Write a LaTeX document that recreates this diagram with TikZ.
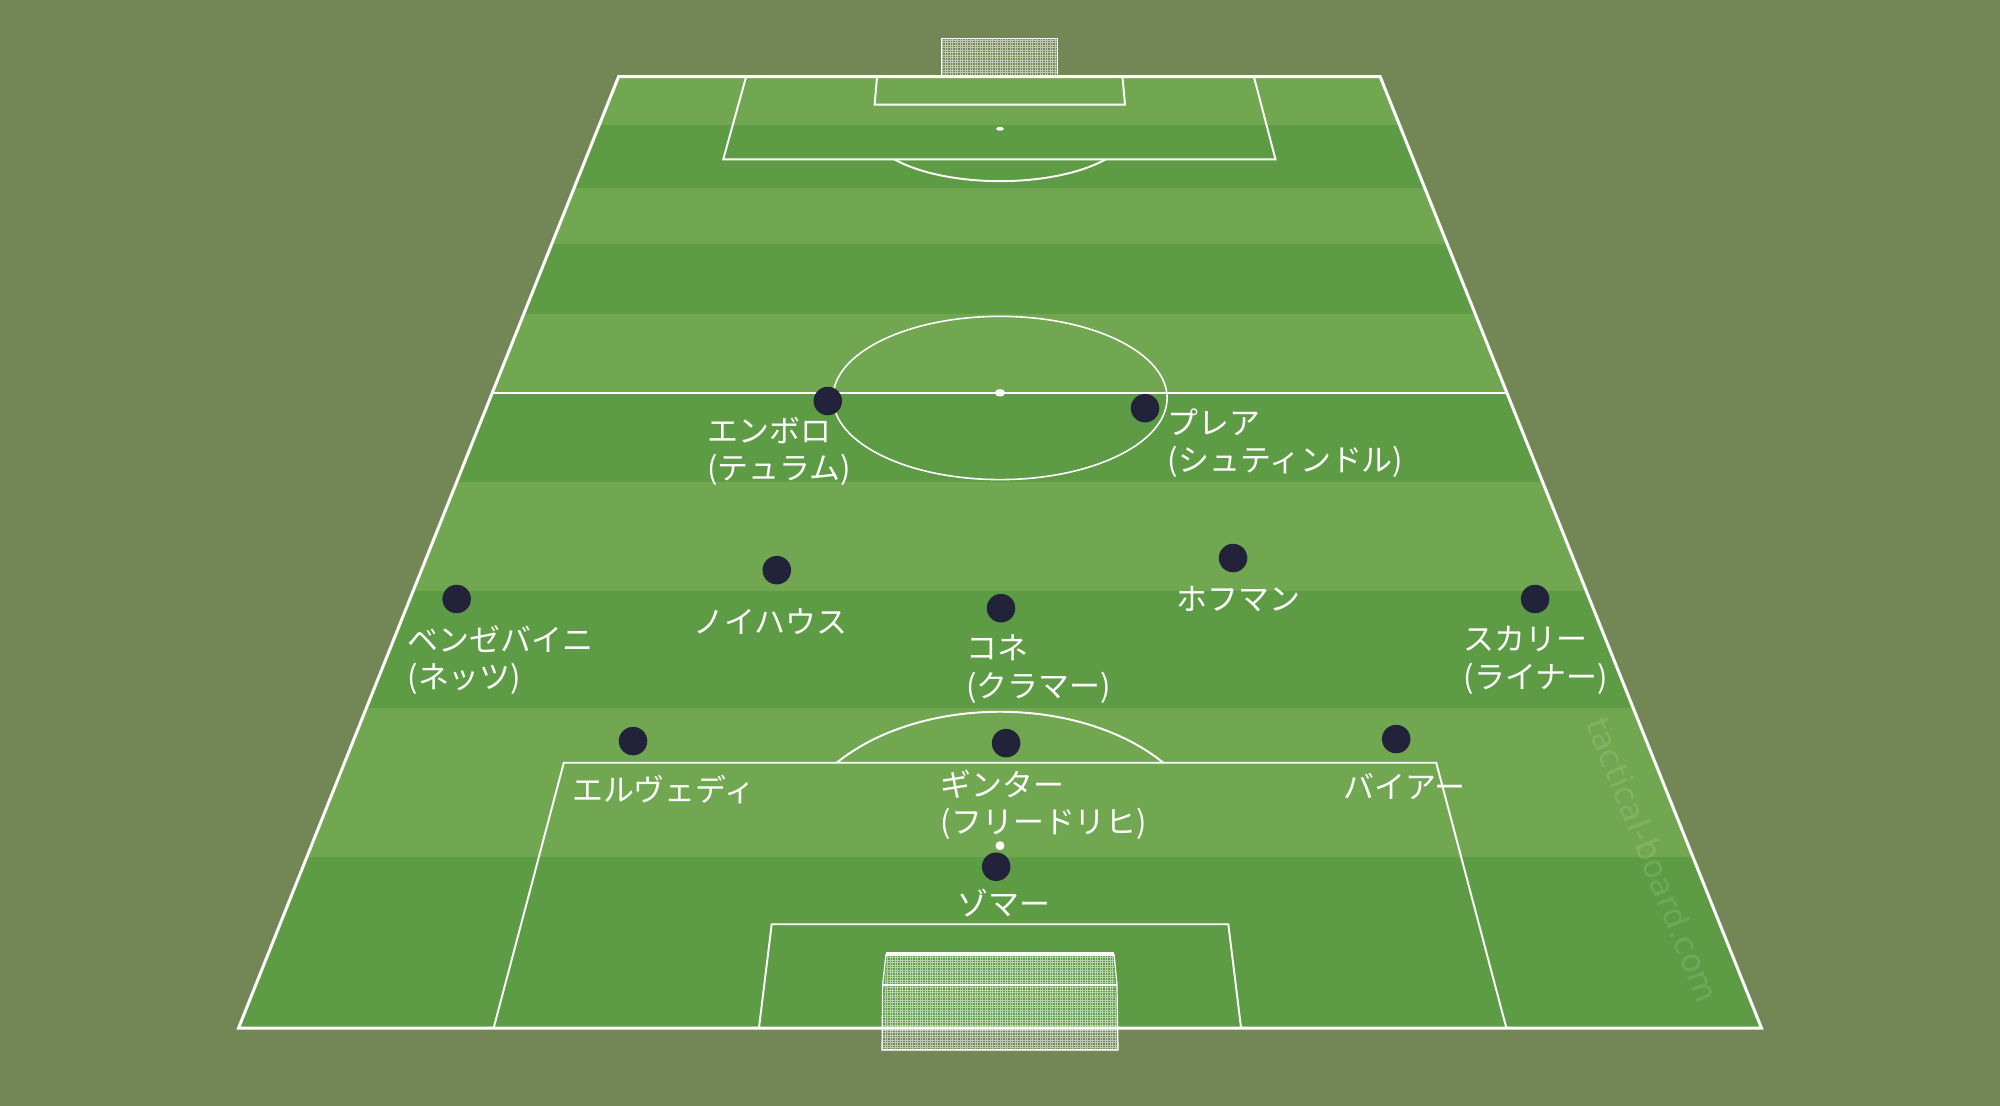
\documentclass[tikz,border=0pt]{standalone}
\usepackage{fontspec}
\setmainfont{Noto Sans CJK JP}
\newfontfamily\wmfont{DejaVu Sans}
\definecolor{bgolive}{HTML}{738656}
\definecolor{lightgrass}{HTML}{71A751}
\definecolor{darkgrass}{HTML}{5D9C44}
\definecolor{dotnavy}{HTML}{22223A}

\begin{document}
\begin{tikzpicture}[x=0.012755cm,y=-0.012755cm,player/.style={circle,fill=dotnavy,inner sep=0pt,minimum size=0.285cm},name label/.style={anchor=west,inner sep=0pt,align=left,text=white,font=\fontsize{8.8}{10.7}\selectfont},pitch line/.style={draw=white,line width=0.55pt},net/.style={draw=white,line width=0.1pt,opacity=0.55}]

                \fill[bgolive] (0,0) rectangle (1568,867);
                \useasboundingbox (0,0) rectangle (1568,867);

                \begin{scope}
                    \clip (485,60) -- (1082,60) -- (1381,806) -- (187,806) -- cycle;
                    \foreach \ya/\yb/\col in {60/98/lightgrass,98/147/darkgrass,147/191/lightgrass,191/246/darkgrass,246/308/lightgrass,308/378/darkgrass,378/463/lightgrass,463/555/darkgrass,555/672/lightgrass,672/806/darkgrass}
                        \fill[\col] (150,\ya) rectangle (1420,\yb);
                \end{scope}

                \node[rotate=-68.2,text=white,opacity=0.12,font=\wmfont\fontsize{9.2}{11}\selectfont] (watermark) at (1296,674) {tactical-board.com};

                \draw[pitch line,line width=0.85pt] (485,60) -- (1082,60) -- (1381,806) -- (187,806) -- cycle;
                \draw[pitch line,line width=0.7pt] (386,308) -- (1181,308);
                \draw[pitch line] (585,60) -- (567,125) -- (1000,125) -- (983,60);
                \draw[pitch line] (687.6,60) -- (685.7,82) -- (882,82) -- (880,60);
                \draw[pitch line] (387,806) -- (442,598) -- (1126,598) -- (1181,806);
                \draw[pitch line] (595,806) -- (605,724.6) -- (963,724.6) -- (973,806);
                \draw[pitch line,line width=0.45pt] (784,312) ellipse [x radius=131,y radius=64];
                \begin{scope}
                    \clip (0,125) rectangle (1568,200);
                    \draw[pitch line] (784,101) ellipse [x radius=102,y radius=41];
                \end{scope}
                \begin{scope}
                    \clip (0,500) rectangle (1568,598);
                    \draw[pitch line] (784,663) ellipse [x radius=163,y radius=105];
                \end{scope}
                \fill[white] (784,308) ellipse [x radius=4,y radius=3];
                \fill[white] (784,101) ellipse [x radius=3,y radius=1.5];
                \fill[white] (784,663) ellipse [x radius=3.5,y radius=3.5];

                \draw[net,step=0.25mm] (738,60) grid (829,30);
                \draw[white,line width=0.4pt] (738,60) -- (738,30) -- (829,30) -- (829,60);

                \begin{scope}
                    \clip (695,748) -- (873,748) -- (877,824) -- (691,824) -- cycle;
                    \draw[net,step=0.25mm] (690,825) grid (878,747);
                \end{scope}
                \draw[white,line width=0.35pt] (694.6,748) -- (692,772) -- (691.5,823) -- (876.5,823) -- (875.7,772) -- (873.4,748);
                \draw[white,line width=0.6pt] (692,772) -- (875.7,772);
                \draw[white,line width=1.1pt] (694.6,748) -- (873.4,748);

                \node[player] (embolo) at (649,314.4) {};
                \node[player] (plea) at (897.7,320) {};
                \node[player] (neuhaus) at (609,447) {};
                \node[player] (hofmann) at (966.7,437.5) {};
                \node[player] (bensebaini) at (358,469.6) {};
                \node[player] (kone) at (784.8,476.8) {};
                \node[player] (scally) at (1203.5,469.6) {};
                \node[player] (elvedi) at (496.3,581) {};
                \node[player] (ginter) at (788.8,582.6) {};
                \node[player] (beyer) at (1094.6,579.4) {};
                \node[player] (sommer) at (781,679.5) {};

                \node[name label] (emboloname) at (554,354) {エンボロ\\(テュラム)};
                \node[name label] (pleaname) at (915,347.5) {プレア\\(シュティンドル)};
                \node[name label] (neuhausname) at (543,487) {ノイハウス};
                \node[name label] (hofmannname) at (922,469.7) {ホフマン};
                \node[name label] (bensebaininame) at (319,517.5) {ベンゼバイニ\\(ネッツ)};
                \node[name label] (konename) at (757,524.7) {コネ\\(クラマー)};
                \node[name label] (scallyname) at (1147,517.5) {スカリー\\(ライナー)};
                \node[name label] (elvediname) at (448,618.7) {エルヴェディ};
                \node[name label] (ginteraname) at (737,631) {ギンター\\(フリードリヒ)};
                \node[name label] (beyername) at (1053,616.5) {バイアー};
                \node[name label] (sommername) at (750,708) {ゾマー};
            \end{tikzpicture}
\end{document}
